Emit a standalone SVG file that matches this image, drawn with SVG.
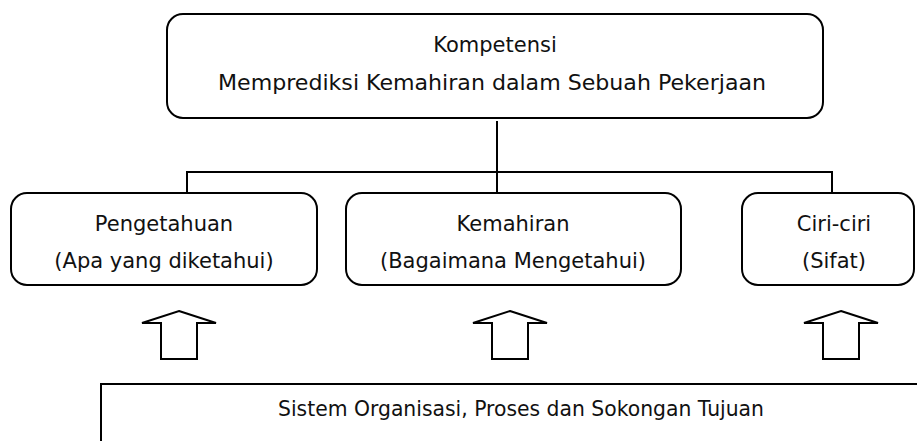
<svg xmlns="http://www.w3.org/2000/svg" width="917" height="441" viewBox="0 0 917 441">
<style>
.box{fill:#fff;stroke:#000;stroke-width:2}
.t{font-family:"DejaVu Sans","Liberation Sans",sans-serif;font-size:21px;fill:#111;text-anchor:middle}
.c{fill:none;stroke:#000;stroke-width:2}
.arr{fill:#fff;stroke:#000;stroke-width:2;stroke-linejoin:miter}
</style>
<rect width="917" height="441" fill="#fff"/>
<g id="connectors">
<path class="c" d="M497,121 V193 M187,193 V172 H832 V193"/>
</g>
<g id="kompetensi">
<rect class="box" x="167" y="14" width="656" height="104" rx="16"/>
<text class="t" x="495" y="52">Kompetensi</text>
<text class="t" x="492" y="90" textLength="548" lengthAdjust="spacingAndGlyphs">Memprediksi Kemahiran dalam Sebuah Pekerjaan</text>
</g>
<g id="pengetahuan">
<rect class="box" x="11" y="193" width="306" height="92" rx="16"/>
<text class="t" x="164" y="231">Pengetahuan</text>
<text class="t" x="164" y="268">(Apa yang diketahui)</text>
</g>
<g id="kemahiran">
<rect class="box" x="346" y="193" width="335" height="92" rx="16"/>
<text class="t" x="513" y="231">Kemahiran</text>
<text class="t" x="513" y="268">(Bagaimana Mengetahui)</text>
</g>
<g id="ciri">
<rect class="box" x="742" y="193" width="172" height="92" rx="16"/>
<text class="t" x="834" y="231">Ciri-ciri</text>
<text class="t" x="834" y="268">(Sifat)</text>
</g>
<g id="arrows">
<polygon class="arr" points="179,311 216,323 197,323 197,359 161,359 161,323 142,323"/>
<polygon class="arr" points="510,311 547,323 528,323 528,359 492,359 492,323 473,323"/>
<polygon class="arr" points="841,311 878,323 859,323 859,359 823,359 823,323 804,323"/>
</g>
<g id="sistem">
<rect class="box" x="101" y="384" width="840" height="80"/>
<text class="t" x="521" y="416" textLength="486" lengthAdjust="spacingAndGlyphs">Sistem Organisasi, Proses dan Sokongan Tujuan</text>
</g>
</svg>
